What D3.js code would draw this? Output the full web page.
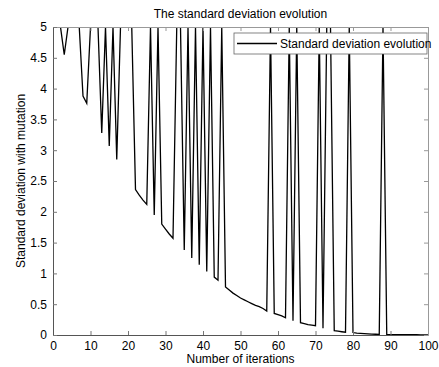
<!DOCTYPE html>
<html>
<head>
<meta charset="utf-8">
<script src="https://cdn.jsdelivr.net/npm/d3@7"></script>
<style>
  body { margin: 0; background: #fff; }
  svg text { font-family: "Liberation Sans", Arial, sans-serif; font-size: 12px; fill: #000; }
</style>
</head>
<body>
<svg width="439" height="367"></svg>
<script>
// standard deviation per iteration
var iterations = d3.range(0, 101);
var stdValues = [
  5, 5, 5, 4.55, 5, 5, 5, 5, 3.88, 3.76,
  5, 5, 5, 3.28, 5, 3.07, 5, 2.85, 5, 5,
  5, 5, 2.36, 2.27, 2.19, 2.12, 5, 1.95, 5, 1.80,
  1.72, 1.64, 1.57, 5, 5, 1.38, 5, 1.25, 5, 1.14,
  5, 1.03, 5, 0.94, 0.89, 5, 0.78, 0.73, 0.68, 0.64,
  0.60, 0.57, 0.54, 0.51, 0.48, 0.46, 0.43, 0.39, 5, 0.35,
  0.33, 0.31, 0.28, 5, 0.23, 5, 0.20, 0.185, 0.17, 0.16,
  0.15, 5, 0.11, 5, 5, 0.07, 0.062, 0.053, 0.045, 5,
  0.04, 0.032, 0.026, 0.021, 0.017, 0.014, 0.012, 0.01, 5, 0.008,
  0.007, 0.006, 0.006, 0.005, 0.005, 0.004, 0.004, 0.004, 0.003, 0.003,
  0.003
];
var xTicks = d3.range(0, 101, 10);
var yTicks = d3.range(0, 5.01, 0.5);

var svg = d3.select("svg");
var margin = {top: 27, right: 11, bottom: 32, left: 53};
var w = 439 - margin.left - margin.right;
var h = 367 - margin.top - margin.bottom;

var x = d3.scaleLinear().domain([0, 100]).range([0, w]);
var y = d3.scaleLinear().domain([0, 5]).range([h, 0]);

var g = svg.append("g").attr("transform", "translate(" + margin.left + "," + margin.top + ")");

// clip a hair below the top so the capped values hide under the box edge
g.append("clipPath").attr("id", "clip")
  .append("rect").attr("y", 0.9).attr("width", w).attr("height", h - 0.9);

var line = d3.line()
  .x(function(d, i) { return x(iterations[i]); })
  .y(function(d) { return y(d); });

g.append("path")
  .datum(stdValues)
  .attr("clip-path", "url(#clip)")
  .attr("fill", "none")
  .attr("stroke", "#000")
  .attr("stroke-width", 1.3)
  .attr("d", line);

// box with inward ticks, matlab style
function tickFmt(d) { return d3.format("")(+d.toFixed(1)); }
var xb = g.append("g").attr("transform", "translate(0," + h + ")")
  .call(d3.axisBottom(x).tickValues(xTicks).tickSizeInner(-4).tickSizeOuter(0).tickPadding(6).tickFormat(tickFmt));
var xt = g.append("g")
  .call(d3.axisTop(x).tickValues(xTicks).tickSizeInner(-4).tickSizeOuter(0).tickFormat(""));
var yl = g.append("g")
  .call(d3.axisLeft(y).tickValues(yTicks).tickSizeInner(-4).tickSizeOuter(0).tickPadding(6).tickFormat(tickFmt));
var yr = g.append("g").attr("transform", "translate(" + w + ",0)")
  .call(d3.axisRight(y).tickValues(yTicks).tickSizeInner(-4).tickSizeOuter(0).tickFormat(""));

[xb, yl].forEach(function(a) {
  a.select(".domain").attr("stroke", "#555");
  a.selectAll(".tick line").attr("stroke", "#777");
  a.selectAll("text").style("font-size", "12px").style("font-family", "'Liberation Sans', Arial, sans-serif").attr("fill", "#000");
});
[xt, yr].forEach(function(a) {
  a.select(".domain").attr("stroke", "#999");
  a.selectAll(".tick line").attr("stroke", "#999");
});

// legend
var lg = g.append("g").attr("transform", "translate(" + (234 - margin.left) + "," + (33 - margin.top) + ")");
lg.append("rect").attr("width", 193).attr("height", 21)
  .attr("fill", "#fff").attr("stroke", "#666").attr("stroke-width", 0.8);
lg.append("line").attr("x1", 3).attr("x2", 43).attr("y1", 10.5).attr("y2", 10.5)
  .attr("stroke", "#000").attr("stroke-width", 1.3);
lg.append("text").attr("x", 46).attr("y", 15)
  .text("Standard deviation evolution");

// titles
svg.append("text").attr("x", margin.left + w / 2).attr("y", 18)
  .attr("text-anchor", "middle")
  .text("The standard deviation evolution");
svg.append("text").attr("x", margin.left + w / 2).attr("y", 363)
  .attr("text-anchor", "middle")
  .text("Number of iterations");
svg.append("text")
  .attr("transform", "translate(25," + (margin.top + h / 2) + ") rotate(-90)")
  .attr("text-anchor", "middle")
  .text("Standard deviation with mutation");
</script>
</body>
</html>
